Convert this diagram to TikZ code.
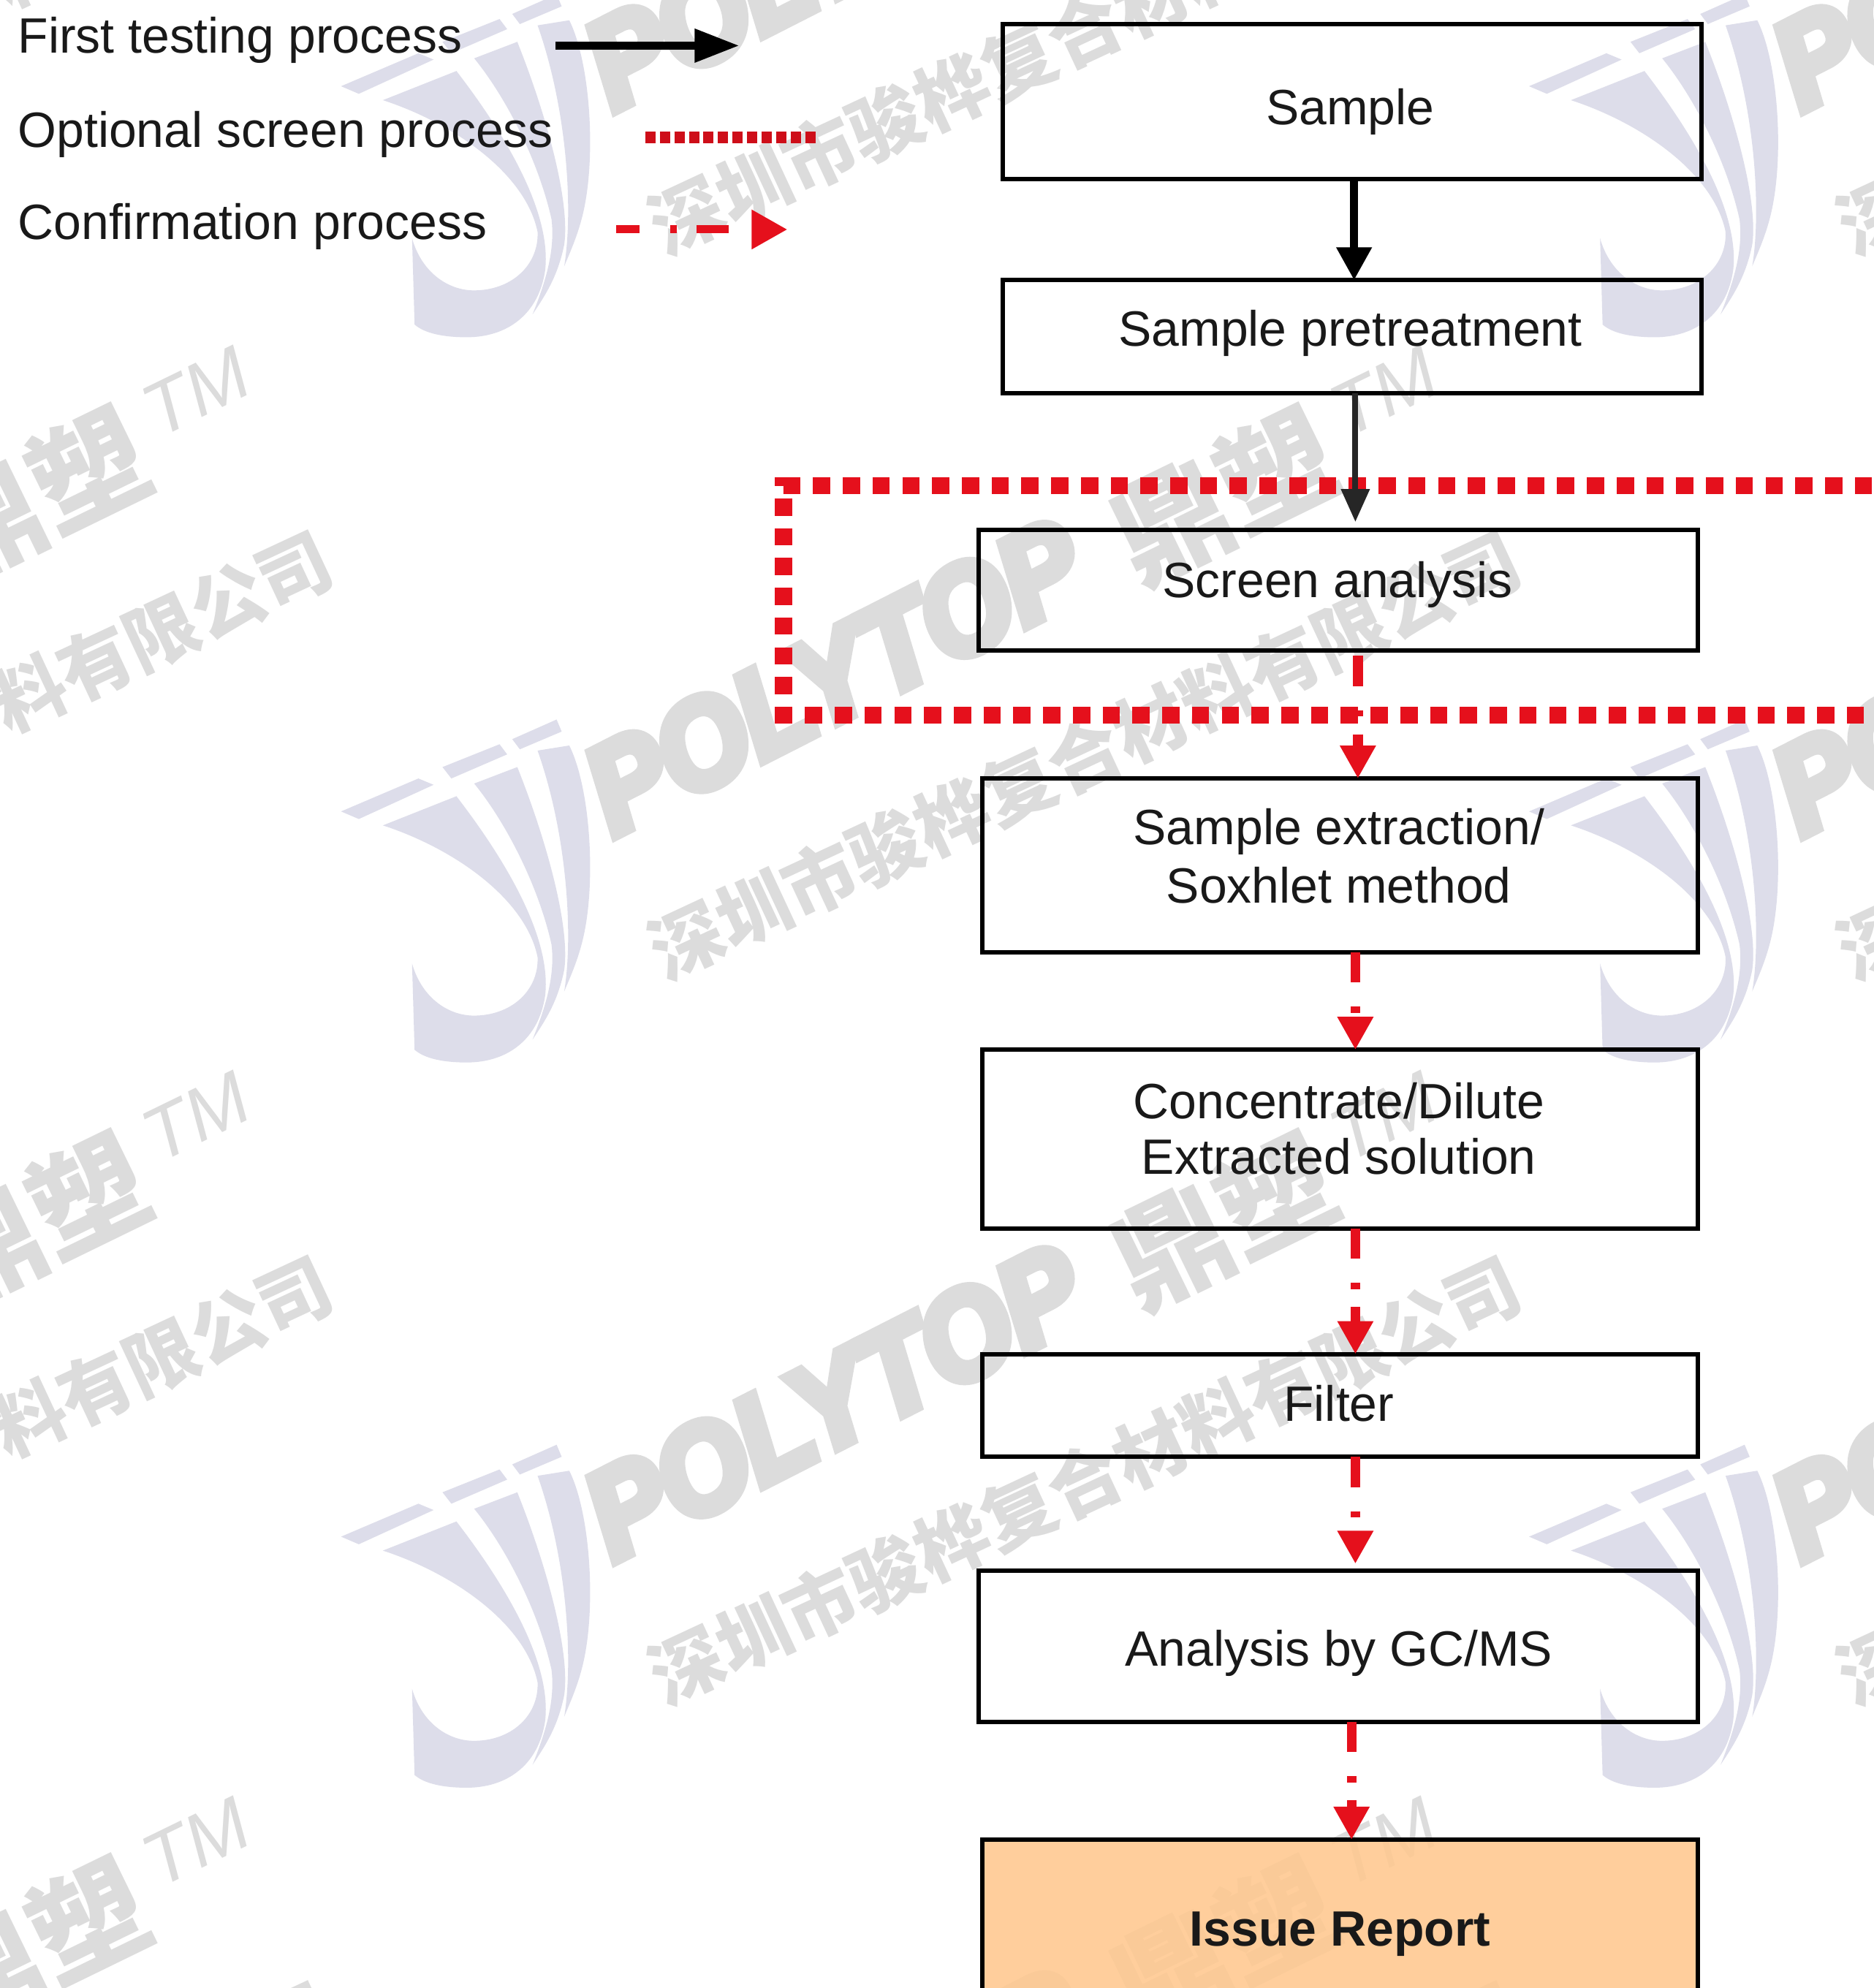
\documentclass[tikz,border=0pt]{standalone}
\usepackage{fontspec}
\setmainfont{Liberation Sans}
\newfontfamily\cjkfont{Noto Sans CJK SC}
\font\polyheavy="Liberation Sans/BI:embolden=8;extend=0.92" at 140pt
\usetikzlibrary{arrows.meta}
\definecolor{wmlogo}{HTML}{DDDDEA}
\definecolor{wmgray}{HTML}{DCDCDC}
\definecolor{flowred}{HTML}{E5101C}
\definecolor{reportfill}{HTML}{FFC88F}
\tikzset{
  flowbox/.style={draw=black,line width=5pt,inner sep=0pt,outer sep=0pt},
  flowtext/.style={inner sep=0pt,font=\fontsize{55.7}{65}\selectfont,text=black!90,align=center},
  legendtext/.style={inner sep=0pt,anchor=base west,font=\fontsize{55.7}{65}\selectfont,text=black!90},
  blackflow/.style={draw=black,line width=8.5pt,-{Triangle[length=37pt,width=38pt]}},
  blackthin/.style={draw=black!85,line width=6.5pt,-{Triangle[length=37pt,width=31pt]}},
  redflow/.style={draw=flowred,line width=11pt,dash pattern=on 34pt off 27pt on 7pt off 20pt on 200pt,-{Triangle[length=37pt,width=38pt]}},
  screenband/.style={draw=flowred,line width=19pt,dash pattern=on 19.4pt off 14pt},
  screendots/.style={draw=flowred!90!black,line width=13pt,dash pattern=on 11.5pt off 4.8pt},
  legendred/.style={draw=flowred,line width=9pt,dash pattern=on 26pt off 35pt on 7pt off 22pt on 36pt off 500pt},
  wmshape/.style={fill=wmlogo,draw=none},
  wmpic/.pic={
    \fill[wmshape] (269,640)--(330,614)--(342,619)--(283,646)--cycle;
    \fill[wmshape] (349,605)--(394,587)--(400,595)--(356,614)--cycle;
    \fill[wmshape] (404,583)--(439,567.5)--(443,577)--(410,591)--cycle;
    \fill[wmshape] (302,651)--(360,628) .. controls (400,680) and (435,740) .. (430,785)
      .. controls (425,820) and (400,838) .. (368,838)
      .. controls (350,838) and (335,835) .. (327,828) -- (325,760)
      .. controls (333,788) and (355,802) .. (376,801)
      .. controls (405,800) and (425,780) .. (424,755)
      .. controls (415,710) and (360,670) .. (302,651) -- cycle;
    \fill[wmshape] (374,618)--(408,605) .. controls (430,660) and (450,730) .. (445,765)
      .. controls (440,790) and (430,805) .. (420,820)
      .. controls (430,795) and (438,770) .. (435,745)
      .. controls (425,700) and (400,650) .. (374,618) -- cycle;
    \fill[wmshape] (424,592)--(449,588) .. controls (465,620) and (470,690) .. (461,735)
      .. controls (457,755) and (450,770) .. (445,782)
      .. controls (452,740) and (448,660) .. (424,592) -- cycle;
    \node[inner sep=0pt,anchor=base west,rotate=27,text=wmgray,font=\polyheavy] (-poly) at (484,660) {POLYTOP};
    \node[inner sep=0pt,anchor=base west,rotate=26,text=wmgray,font=\fontsize{130}{130}\selectfont\cjkfont\bfseries] (-ding) at (898,462) {鼎塑};
    \node[inner sep=0pt,anchor=base west,rotate=26,text=wmgray,font=\fontsize{84}{84}\selectfont\itshape] (-tm) at (1062,346) {TM};
    \node[inner sep=0pt,anchor=base west,rotate=25,text=wmgray,font=\fontsize{82}{82}\selectfont\cjkfont\bfseries] (-cn) at (525,774) {深圳市骏桦复合材料有限公司};
  }
}
\begin{document}
\begin{tikzpicture}[x=0.05cm,y=-0.05cm]
\useasboundingbox (0,0) rectangle (1478,1568);
\clip (0,0) rectangle (1478,1568);
\fill[white] (0,0) rectangle (1478,1568);
\foreach \dy in {-572,0,572,1144}
  \foreach \dx in {-937,0,937}
    \pic (r\dx x\dy) at (\dx,\dy) {wmpic};
% boxes
\node[flowbox,fill=reportfill,fill opacity=0.88,minimum width=28.2cm,minimum height=10cm] (issue) at (1057,1551) {};
\node[flowbox,minimum width=27.55cm,minimum height=6.1cm] (sample) at (1066.5,80) {};
\node[flowbox,minimum width=27.55cm,minimum height=4.45cm] (pre) at (1066.5,265.5) {};
\node[flowbox,minimum width=28.35cm,minimum height=4.75cm] (screen) at (1055.5,465.5) {};
\node[flowbox,minimum width=28.2cm,minimum height=6.85cm] (extract) at (1057,682.5) {};
\node[flowbox,minimum width=28.2cm,minimum height=7.05cm] (conc) at (1057,898.5) {};
\node[flowbox,minimum width=28.2cm,minimum height=4.05cm] (filter) at (1057,1108.5) {};
\node[flowbox,minimum width=28.35cm,minimum height=5.95cm] (gc) at (1055.5,1298.5) {};
% box texts
\node[flowtext,anchor=base] (tsample) at (1065,98) {Sample};
\node[flowtext,anchor=base] (tpre) at (1065,273) {Sample pretreatment};
\node[flowtext,anchor=base] (tscreen) at (1055,471) {Screen analysis};
\node[flowtext,anchor=base] (textract1) at (1056,666) {Sample extraction/};
\node[flowtext,anchor=base] (textract2) at (1056,712) {Soxhlet method};
\node[flowtext,anchor=base] (tconc1) at (1056,882) {Concentrate/Dilute};
\node[flowtext,anchor=base] (tconc2) at (1056,926) {Extracted solution};
\node[flowtext,anchor=base] (tfilter) at (1056,1121) {Filter};
\node[flowtext,anchor=base] (tgc) at (1056,1314) {Analysis by GC/MS};
\node[flowtext,anchor=base,font=\fontsize{55.7}{65}\selectfont\bfseries] (tissue) at (1057,1535) {Issue Report};
% screen band
\coordinate (bandtr) at (1500,383);
\coordinate (bandtl) at (618,383);
\coordinate (bandbl) at (618,564);
\coordinate (bandbr) at (1500,564);
\draw[screenband] (bandtr) -- (bandtl) -- (bandbl) -- (bandbr);
% connectors
\coordinate (spa) at (1068,0);
\coordinate (spb) at (1069,0);
\coordinate (spc) at (1071,0);
\coordinate (spd) at (1066,0);
\draw[blackflow] (sample.south -| spa) -- (pre.north -| spa);
\draw[blackthin,shorten >=9pt] (pre.south -| spb) -- (screen.north -| spb);
\draw[redflow,shorten <=6pt] (screen.south -| spc) -- (extract.north -| spc);
\draw[redflow] (extract.south -| spb) -- (conc.north -| spb);
\draw[redflow] (conc.south -| spb) -- (filter.north -| spb);
\draw[redflow,shorten >=8pt] (filter.south -| spb) -- (gc.north -| spb);
\draw[redflow] (gc.south -| spd) -- (issue.north -| spd);
% legend
\node[legendtext] (lfirst) at (14,42) {First testing process};
\node[legendtext] (lopt) at (14,116) {Optional screen process};
\node[legendtext] (lconf) at (14,189) {Confirmation process};
\coordinate (la1) at (438,36);
\coordinate (la2) at (583,36);
\coordinate (lb1) at (509,108.5);
\coordinate (lb2) at (646,108.5);
\coordinate (lc1) at (486,181);
\coordinate (lc2) at (621,181);
\draw[draw=black,line width=8.5pt,-{Triangle[length=50pt,width=36pt]}] (la1) -- (la2);
\draw[screendots] (lb1) -- (lb2);
\draw[legendred,-{Triangle[length=40pt,width=42pt]}] (lc1) -- (lc2);
\end{tikzpicture}
\end{document}
